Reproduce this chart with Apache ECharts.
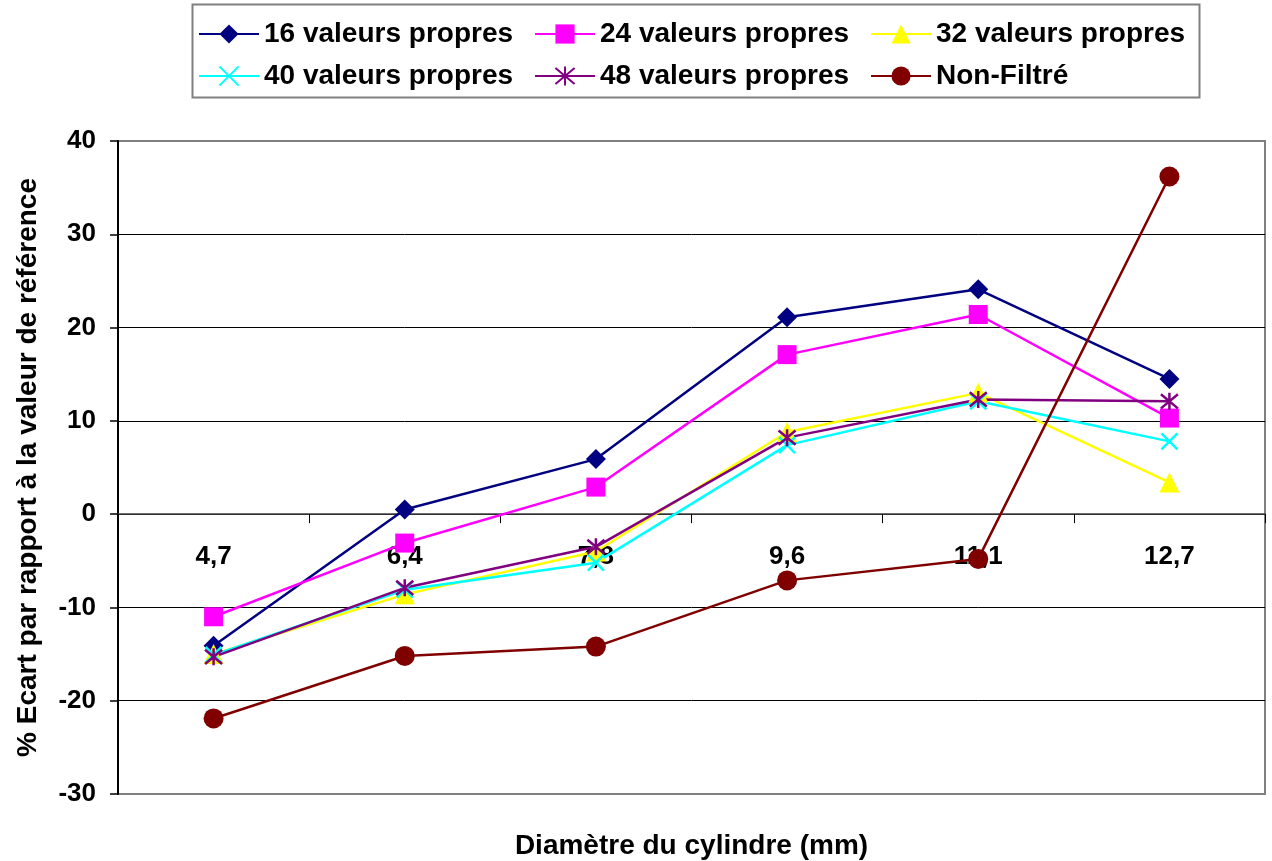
<!DOCTYPE html>
<html>
<head>
<meta charset="utf-8">
<script src="https://cdn.jsdelivr.net/npm/echarts@6/dist/echarts.min.js"></script>
<style>
html,body{margin:0;padding:0;background:#fff;}
#chart{width:1272px;height:861px;}
</style>
</head>
<body>
<div id="chart"></div>
<script>
var categories = ['4,7', '6,4', '7,8', '9,6', '11,1', '12,7'];
var yTicks = { min: -30, max: 40, interval: 10 };
var seriesNames = ['16 valeurs propres', '24 valeurs propres', '32 valeurs propres', '40 valeurs propres', '48 valeurs propres', 'Non-Filtré'];
var vp16 = [-14.1, 0.5, 5.9, 21.1, 24.1, 14.5];
var vp24 = [-11.0, -3.1, 2.9, 17.1, 21.4, 10.3];
var vp32 = [-15.0, -8.6, -4.0, 8.8, 13.0, 3.4];
var vp40 = [-15.1, -8.1, -5.2, 7.4, 12.1, 7.8];
var vp48 = [-15.3, -7.9, -3.5, 8.2, 12.3, 12.1];
var nonFiltre = [-21.9, -15.2, -14.2, -7.1, -4.8, 36.2];

var FONT = 'Liberation Sans, Arial, sans-serif';
var crossPath = 'path://M0,0L10,10M10,0L0,10';
var starPath = 'path://M0,0L10,10M10,0L0,10M5,-1L5,11';

function mk(name, data, color, symbol, size, stroke) {
  return {
    name: name,
    type: 'line',
    data: data,
    symbol: symbol,
    symbolSize: size,
    showSymbol: true,
    animation: false,
    lineStyle: { color: color, width: 2.5 },
    itemStyle: stroke ? { color: 'rgba(0,0,0,0)', borderColor: color, borderWidth: 2.5 } : { color: color, borderWidth: 0 },
    emphasis: { disabled: true }
  };
}

var gridTop = 141, gridBottom = 67, H = 861;
var plotH = H - gridTop - gridBottom;
var zeroOffset = -plotH * (0 - yTicks.min) / (yTicks.max - yTicks.min);

var chart = echarts.init(document.getElementById('chart'), null, { renderer: 'canvas' });
var legendText = { fontFamily: FONT, fontWeight: 'bold', fontSize: 28, color: '#000' };
var option = {
  backgroundColor: '#fff',
  animation: false,
  graphic: [{
    type: 'rect', left: 190, top: 2, z: 0,
    shape: { width: 1007, height: 93 },
    style: { fill: 'none', stroke: '#808080', lineWidth: 2 }
  }],
  legend: [{
    data: seriesNames.slice(0, 3), left: 198, top: 20, padding: 0,
    itemWidth: 60, itemHeight: 24, itemGap: 21, textStyle: legendText
  }, {
    data: seriesNames.slice(3, 6), left: 198, top: 62, padding: 0,
    itemWidth: 60, itemHeight: 24, itemGap: 21, textStyle: legendText
  }],
  grid: { left: 118, right: 7, top: gridTop, bottom: gridBottom, show: true, borderColor: '#808080', borderWidth: 2, containLabel: false, outerBoundsMode: 'none' },
  xAxis: {
    type: 'category',
    data: categories,
    boundaryGap: true,
    offset: zeroOffset,
    name: 'Diamètre du cylindre (mm)',
    nameLocation: 'middle',
    nameGap: 318,
    nameTextStyle: { fontFamily: FONT, fontWeight: 'bold', fontSize: 28, color: '#000' },
    axisLine: { onZero: false, lineStyle: { color: '#404040', width: 1.5 } },
    axisTick: { show: true, inside: false, length: 9, lineStyle: { color: '#000', width: 1 } },
    axisLabel: { margin: 30, fontFamily: FONT, fontWeight: 'bold', fontSize: 26, color: '#000' },
    splitLine: { show: false }
  },
  yAxis: {
    type: 'value',
    min: yTicks.min, max: yTicks.max, interval: yTicks.interval,
    name: '% Ecart par rapport à la valeur de référence',
    nameLocation: 'middle',
    nameGap: 76,
    nameTextStyle: { fontFamily: FONT, fontWeight: 'bold', fontSize: 28, color: '#000' },
    axisLine: { show: true, lineStyle: { color: '#000', width: 2 } },
    axisTick: { show: true, inside: false, length: 8, lineStyle: { color: '#000', width: 1.5 } },
    axisLabel: { margin: 22, fontFamily: FONT, fontWeight: 'bold', fontSize: 26, color: '#000' },
    splitLine: { show: true, lineStyle: { color: ['#808080', '#000', '#000', '#000', '#000', '#000', '#000', '#808080'], width: 1 } }
  },
  series: [
    mk(seriesNames[0], vp16, '#000080', 'diamond', 20, false),
    mk(seriesNames[1], vp24, '#FF00FF', 'rect', 19, false),
    mk(seriesNames[2], vp32, '#FFFF00', 'triangle', 20, false),
    mk(seriesNames[3], vp40, '#00FFFF', crossPath, 16, true),
    mk(seriesNames[4], vp48, '#800080', starPath, 17, true),
    mk(seriesNames[5], nonFiltre, '#800000', 'circle', 20, false)
  ]
};
chart.setOption(option);
</script>
</body>
</html>
